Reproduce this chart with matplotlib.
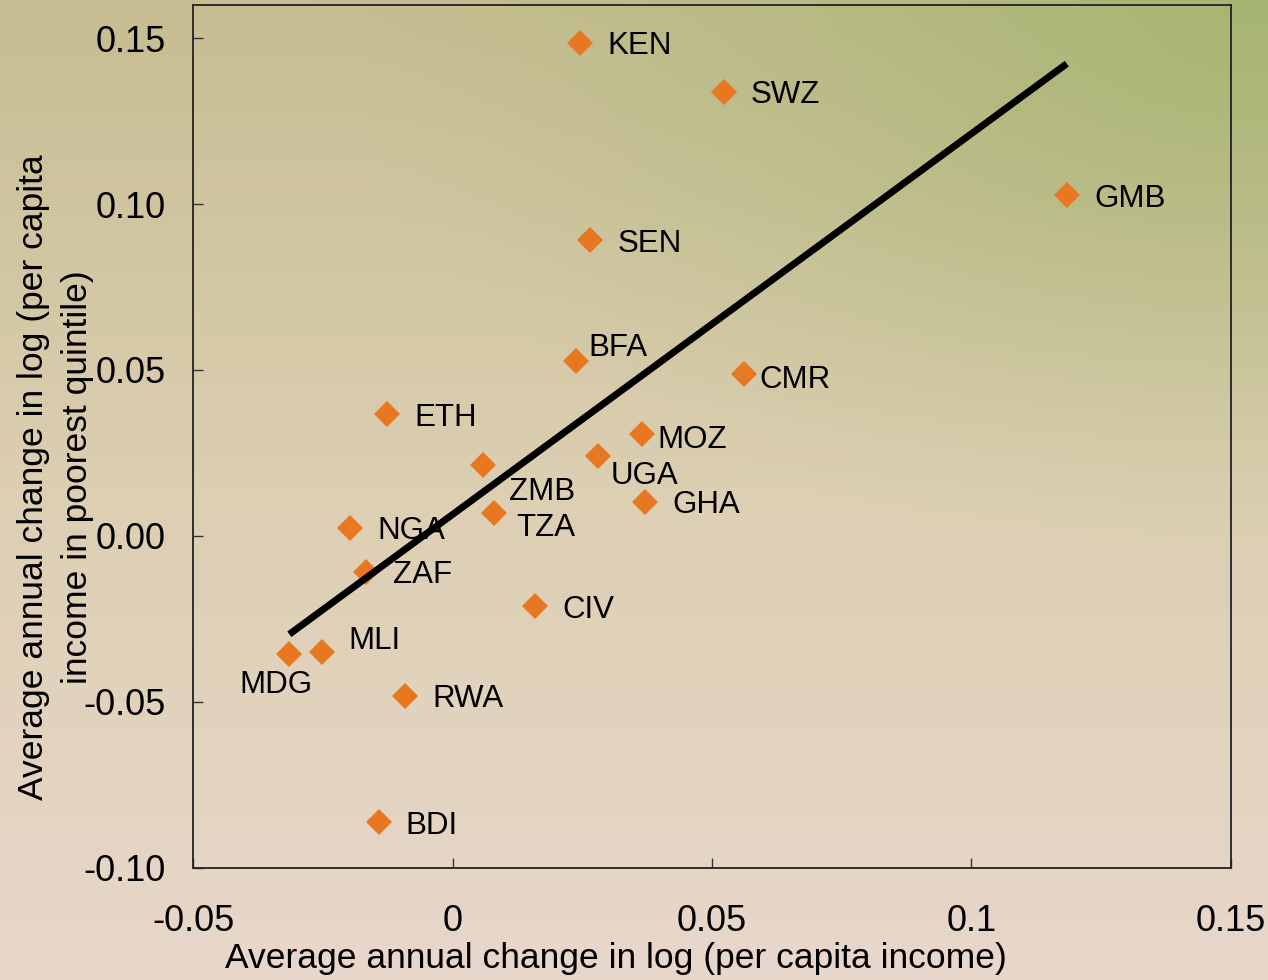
import numpy as np
import matplotlib
matplotlib.use("Agg")
import matplotlib.pyplot as plt
from matplotlib.colors import to_rgb

# country codes and values
countries = ["KEN", "SWZ", "GMB", "SEN", "BFA", "CMR", "ETH", "MOZ", "UGA", "ZMB",
             "TZA", "GHA", "NGA", "ZAF", "CIV", "MLI", "MDG", "RWA", "BDI"]
income_change = [0.0245, 0.0523, 0.1184, 0.0265, 0.0237, 0.0562, -0.0127, 0.0364, 0.0280, 0.0058,
                 0.0080, 0.0371, -0.0198, -0.0168, 0.0159, -0.0253, -0.0315, -0.0092, -0.0143]
poor_change = [0.1486, 0.1338, 0.1027, 0.0891, 0.0527, 0.0487, 0.0367, 0.0307, 0.0240, 0.0213,
               0.0068, 0.0103, 0.0024, -0.0109, -0.0212, -0.0350, -0.0355, -0.0483, -0.0863]

x_ticks = [-0.05, 0, 0.05, 0.1, 0.15]
x_tick_labels = ["-0.05", "0", "0.05", "0.1", "0.15"]
y_ticks = [0.15, 0.10, 0.05, 0.0, -0.05, -0.10]
y_tick_labels = ["0.15", "0.10", "0.05", "0.00", "-0.05", "-0.10"]

# label offsets in points (dx, dy, ha)
offsets = {"BFA": (9, 12, "left"), "CMR": (11, -1.5, "left"), "MOZ": (11.5, -2, "left"),
           "UGA": (9, -11.5, "left"), "ZMB": (19, -16.5, "left"), "TZA": (16, -8, "left"),
           "MLI": (19.5, 10, "left"), "MDG": (-10, -20, "center")}

plt.rcParams["font.family"] = ["Liberation Sans", "DejaVu Sans"]
plt.rcParams["axes.unicode_minus"] = False
FS = 22.5      # country labels
TICK_FS = 26
LABEL_FS = 25.5

fig = plt.figure(figsize=(12.68, 9.80), dpi=100)

# background gradient
h, w = 196, 254
yy, xx = np.mgrid[0:1:h * 1j, 0:1:w * 1j]
top = np.array(to_rgb("#c6bd92"))
mid = np.array(to_rgb("#dccfb2"))
bot = np.array(to_rgb("#e8d7cb"))
t = yy[..., None]
base = np.where(t < 0.5, top + (mid - top) * (t / 0.5), mid + (bot - mid) * ((t - 0.5) / 0.5))
green = np.array(to_rgb("#a6b571"))
d = np.sqrt(((1 - xx) * 1.0) ** 2 + (yy * 1.3) ** 2)
wgt = np.clip(1 - d / 0.75, 0, 1)[..., None] ** 1.3
img = base * (1 - wgt) + green * wgt
bg = fig.add_axes([0, 0, 1, 1], zorder=-1)
bg.imshow(img, aspect="auto", extent=[0, 1, 0, 1], interpolation="bilinear")
bg.axis("off")

ax = fig.add_axes([193.4 / 1268, 1 - 867.5 / 980, (1230.7 - 193.4) / 1268, (867.5 - 5) / 980])
ax.set_facecolor("none")

ax.plot(income_change, poor_change, linestyle="none", marker="D", markersize=13.7,
        color="#e87722", markeredgewidth=0, zorder=3)

fit = np.polyfit(income_change, poor_change, 1)
xs = np.array([min(income_change), max(income_change)])
ax.plot(xs, np.polyval(fit, xs), color="black", linewidth=5, solid_capstyle="butt", zorder=5)

for name, xv, yv in zip(countries, income_change, poor_change):
    dx, dy, ha = offsets.get(name, (19.5, 0, "left"))
    ax.annotate(name, (xv, yv), xytext=(dx, dy), textcoords="offset points",
                ha=ha, va="center_baseline", fontsize=FS, color="black", zorder=4)

ax.set_xlim(-0.05, 0.15)
ax.set_ylim(-0.10, 0.16)
ax.set_xticks(x_ticks)
ax.set_xticklabels(x_tick_labels)
ax.set_yticks(y_ticks)
ax.set_yticklabels(y_tick_labels)
ax.tick_params(axis="both", direction="in", length=7, width=1, labelsize=TICK_FS, color="#333333")
ax.tick_params(axis="x", pad=26)
ax.tick_params(axis="y", pad=20)
for s in ax.spines.values():
    s.set_linewidth(1.3)
    s.set_color("#222222")

fig.text(616 / 1268, 1 - 968 / 980, "Average annual change in log (per capita income)",
         ha="center", va="baseline", fontsize=LABEL_FS)
fig.text(42.7 / 1268, 0.5133, "Average annual change in log (per capita",
         rotation=90, rotation_mode="anchor", ha="center", va="baseline", fontsize=LABEL_FS)
fig.text(87.5 / 1268, 0.5133, "income in poorest quintile)",
         rotation=90, rotation_mode="anchor", ha="center", va="baseline", fontsize=LABEL_FS)

fig.savefig("out.png", dpi=100)
